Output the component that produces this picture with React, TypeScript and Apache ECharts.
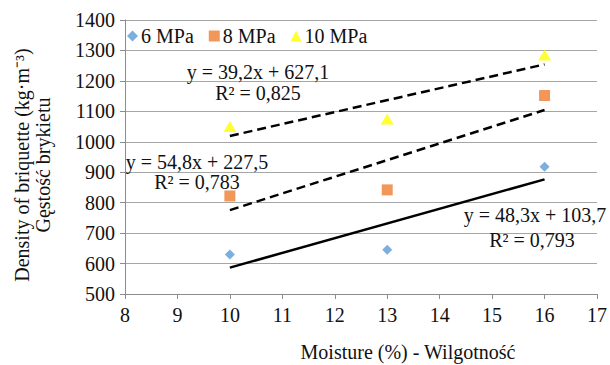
import React, { useEffect, useRef } from "react";
import * as echarts from "echarts";

const seriesNames = ["6 MPa", "8 MPa", "10 MPa"];
const moisture = [10, 13, 16];
const density6 = [630, 645, 918];
const density8 = [822, 842, 1152];
const density10 = [1050, 1075, 1285];
const slopes = [48.3, 54.8, 39.2];
const intercepts = [103.7, 227.5, 627.1];
const eqLabels = ["y = 48,3x + 103,7", "y = 54,8x + 227,5", "y = 39,2x + 627,1"];
const r2Labels = ["R² = 0,793", "R² = 0,783", "R² = 0,825"];
const colors = ["#5B9BD5", "#ED7D31", "#FFFF00"];
const symbols = ["diamond", "rect", "triangle"];

const FONT = "Liberation Serif";
const TXT = "#111111";
const FS = 20;

export default function App() {
  const ref = useRef<HTMLDivElement>(null);
  useEffect(() => {
    if (!ref.current) return;
    const chart = echarts.init(ref.current, null, { renderer: "svg" });
    const allData = [density6, density8, density10];
    const scatter = allData.map((d, i) => ({
      name: seriesNames[i],
      type: "scatter",
      data: moisture.map((x, j) => [x, d[j]]),
      symbol: symbols[i],
      symbolSize: i === 0 ? 10 : i === 1 ? 11 : [13, 11],
      itemStyle: { color: colors[i] },
      z: 3,
    }));
    const xs = [moisture[0], moisture[moisture.length - 1]];
    const trends = slopes.map((s, i) => ({
      name: "trend" + i,
      type: "line",
      data: xs.map((x) => [x, intercepts[i] + s * x]),
      symbol: "none",
      lineStyle: { color: "#000", width: 2.5, type: i === 0 ? "solid" : [9, 5] },
      z: 2,
    }));
    const textStyle = {
      fontFamily: FONT,
      fontSize: FS,
      fill: TXT,
      textAlign: "center",
      textVerticalAlign: "middle",
    } as any;
    const labelPos = [
      [535, 215, 532, 240],
      [197, 162, 197, 182],
      [258, 72, 258, 93],
    ];
    const graphics: any[] = [];
    labelPos.forEach((p, i) => {
      graphics.push({ type: "text", x: p[0], y: p[1], style: { ...textStyle, text: eqLabels[i] }, z: 10 });
      graphics.push({ type: "text", x: p[2], y: p[3], style: { ...textStyle, text: r2Labels[i] }, z: 10 });
    });
    graphics.push({
      type: "text",
      x: 408,
      y: 352,
      style: { ...textStyle, text: "Moisture (%) - Wilgotność" },
    });
    graphics.push({
      type: "text",
      x: 22,
      y: 165,
      rotation: Math.PI / 2,
      style: { ...textStyle, text: "Density of briquette (kg·m⁻³)" },
    });
    graphics.push({
      type: "text",
      x: 43,
      y: 165,
      rotation: Math.PI / 2,
      style: { ...textStyle, text: "Gęstość brykietu" },
    });
    chart.setOption({
      animation: false,
      backgroundColor: "#fff",
      textStyle: { fontFamily: FONT },
      grid: { left: 125, right: 5, top: 20, bottom: 71, containLabel: false },
      legend: {
        data: seriesNames.map((n, i) => ({ name: n, icon: symbols[i] })),
        left: 127,
        top: 26,
        padding: 0,
        itemWidth: 11,
        itemHeight: 11,
        itemGap: 15,
        textStyle: { fontFamily: FONT, fontSize: FS, color: TXT, padding: [0, 0, 0, -2] },
      },
      xAxis: {
        type: "value",
        min: 8,
        max: 17,
        interval: 1,
        axisLine: { show: true, lineStyle: { color: "#8c8c8c", width: 1 } },
        axisTick: { show: true, length: 5, lineStyle: { color: "#8c8c8c" } },
        splitLine: { show: false },
        axisLabel: { fontFamily: FONT, fontSize: FS, color: TXT, margin: 11, formatter: (v: number) => String(v) },
      },
      yAxis: {
        type: "value",
        min: 500,
        max: 1400,
        interval: 100,
        axisLine: { show: true, lineStyle: { color: "#8c8c8c", width: 1 } },
        axisTick: { show: true, length: 5, lineStyle: { color: "#8c8c8c" } },
        splitLine: { show: true, lineStyle: { color: "#a6a6a6", width: 1 } },
        axisLabel: { fontFamily: FONT, fontSize: FS, color: TXT, margin: 10, formatter: (v: number) => String(v) },
      },
      graphic: graphics,
      series: [...trends, ...scatter],
    });
    return () => chart.dispose();
  }, []);
  return (
    <div
      ref={ref}
      style={{ position: "fixed", left: 0, top: 0, width: 610, height: 365, background: "#fff" }}
    />
  );
}
